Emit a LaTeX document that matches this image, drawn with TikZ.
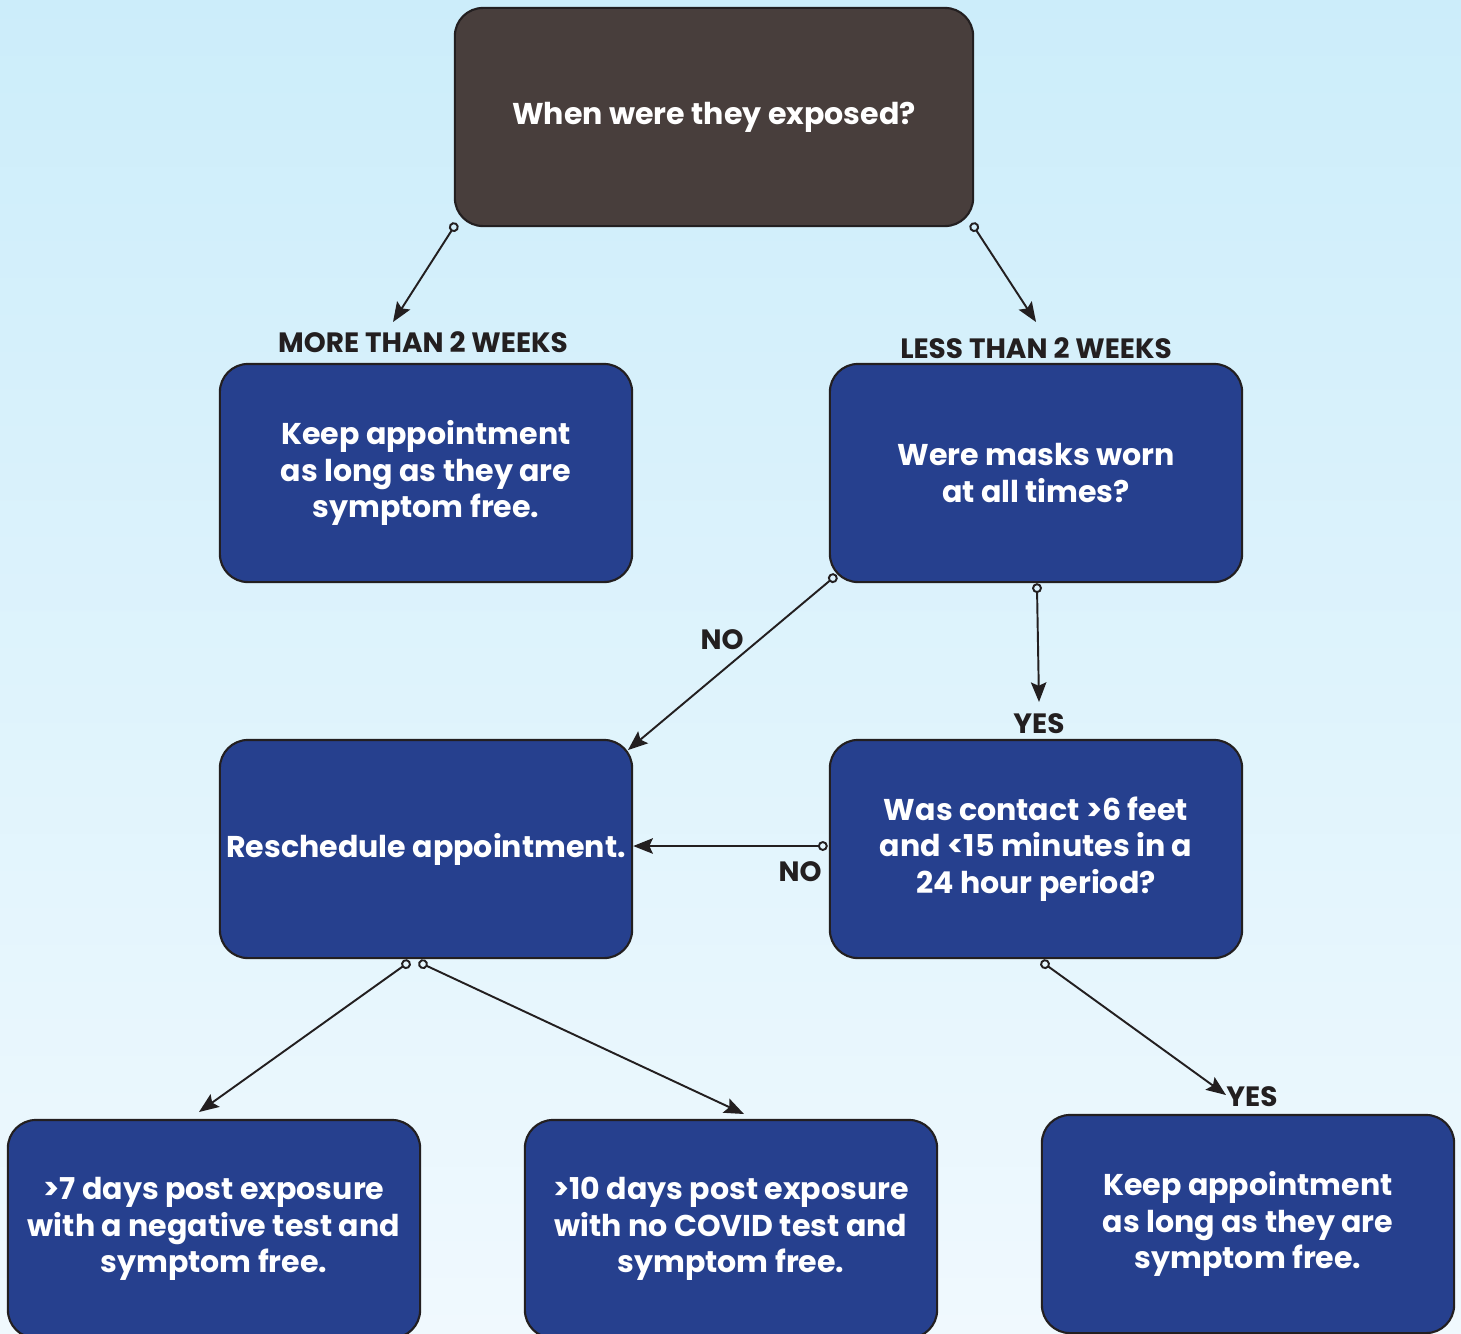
\documentclass[tikz,border=0pt]{standalone}
\usepackage{fontspec}
\setmainfont{Poppins}
\usetikzlibrary{arrows.meta}
\definecolor{skytop}{RGB}{204,237,250}
\definecolor{skybot}{RGB}{240,249,254}
\definecolor{boxblue}{RGB}{38,64,142}
\definecolor{boxdark}{RGB}{72,62,60}
\definecolor{inkline}{RGB}{35,31,32}
\begin{document}
\begin{tikzpicture}[
    x={(0.01cm,0cm)}, y={(0cm,-0.01cm)},
    every node/.style={font=\bfseries\fontsize{8.55}{10.4}\selectfont},
    box/.style={draw=inkline,line width=0.6pt,fill=boxblue,rounded corners=8pt,
        minimum width=4.12cm,minimum height=2.18cm,text=white,align=center,inner sep=0pt},
    qbox/.style={box,fill=boxdark,minimum width=5.18cm},
    lbl/.style={text=inkline,inner sep=0pt,font=\bfseries\fontsize{7.95}{9.5}\selectfont},
    link/.style={draw=inkline,line width=0.55pt,shorten <=-1.4pt,
        {Circle[open,length=2.8pt,line width=0.55pt]}-{Stealth[length=5.6pt,width=4.4pt,inset=1pt]}}]
    % Fondo degradado.
    \useasboundingbox (0,0) rectangle (1461,1333);
    \clip (0,0) rectangle (1461,1333);
    \shade[top color=skytop,bottom color=skybot] (0,0) rectangle (1461,1333);

    % Cajas.
    \node[qbox] (exposed) at (714,117) {When were they exposed?};
    \node[box] (keepA) at (426,473) {Keep appointment\\as long as they are\\symptom free.};
    \node[box] (masks) at (1036,473) {Were masks worn\\at all times?};
    \node[box] (resched) at (426,849) {Reschedule appointment.};
    \node[box] (contact) at (1036,849) {Was contact >6 feet\\and <15 minutes in a\\24 hour period?};
    \node[box] (seven) at (214,1229) {>7 days post exposure\\with a negative test and\\symptom free.};
    \node[box] (ten) at (731,1229) {>10 days post exposure\\with no COVID test and\\symptom free.};
    \node[box] (keepB) at (1248,1224) {Keep appointment\\as long as they are\\symptom free.};

    % Rótulos.
    \node[lbl] (more) at (423,342) {MORE THAN 2 WEEKS};
    \node[lbl] (less) at (1036,348) {LESS THAN 2 WEEKS};
    \node[lbl] (noA) at (722,640) {NO};
    \node[lbl] (yesA) at (1039,724) {YES};
    \node[lbl] (noB) at (800,872) {NO};
    \node[lbl] (yesB) at (1252,1097) {YES};

    % Extremos libres de las flechas.
    \coordinate (tipMore) at (393,322);
    \coordinate (tipLess) at (1036,322);
    \coordinate (tipNo) at (628,750);
    \coordinate (tipYes) at (1039,702);
    \coordinate (noStart) at ([shift={(-6,-3)}]contact.west);
    \coordinate (tipSeven) at (199,1112);
    \coordinate (tipTen) at (744,1114);
    \coordinate (tipKeep) at (1226,1095);

    \draw[link] (exposed.south west) -- (tipMore);
    \draw[link] (exposed.south east) -- (tipLess);
    \draw[link] ([shift={(4,-5)}]masks.south west) -- (tipNo);
    \draw[link] ([shift={(1,5)}]masks.south) -- (tipYes);
    \draw[link] (noStart) -- (resched.east |- noStart);
    \draw[link] ([shift={(-20,5)}]resched.south) -- (tipSeven);
    \draw[link] ([shift={(-3,5)}]resched.south) -- (tipTen);
    \draw[link] ([shift={(9,5)}]contact.south) -- (tipKeep);
\end{tikzpicture}
\end{document}
